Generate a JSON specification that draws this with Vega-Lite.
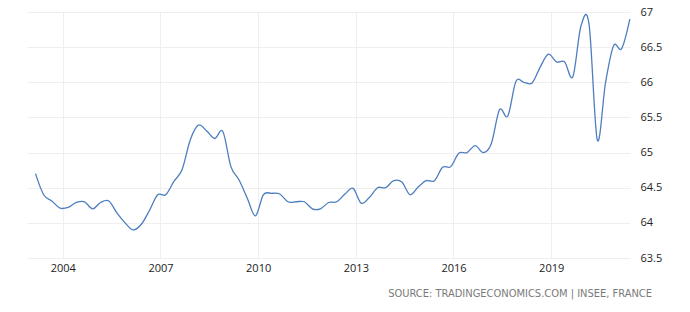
{
  "$schema": "https://vega.github.io/schema/vega-lite/v6.json",
  "width": 603,
  "height": 246,
  "autosize": "none",
  "padding": {"left": 27, "top": 12, "right": 60, "bottom": 54},
  "background": "white",
  "config": {"view": {"stroke": null}, "font": "Open Sans"},
  "title": {
    "text": "SOURCE: TRADINGECONOMICS.COM | INSEE, FRANCE",
    "orient": "bottom",
    "anchor": "end",
    "frame": "group",
    "font": "DejaVu Sans Condensed",
    "fontSize": 11,
    "fontWeight": "normal",
    "color": "#7a7a7a",
    "dx": 22,
    "offset": 15
  },
  "data": {
    "values": [
      {"date": "2003-03-01", "value": 64.70},
      {"date": "2003-06-01", "value": 64.40},
      {"date": "2003-09-01", "value": 64.31},
      {"date": "2003-12-01", "value": 64.21},
      {"date": "2004-03-01", "value": 64.22},
      {"date": "2004-06-01", "value": 64.29},
      {"date": "2004-09-01", "value": 64.30},
      {"date": "2004-12-01", "value": 64.20},
      {"date": "2005-03-01", "value": 64.29},
      {"date": "2005-06-01", "value": 64.31},
      {"date": "2005-09-01", "value": 64.14},
      {"date": "2005-12-01", "value": 64.00},
      {"date": "2006-03-01", "value": 63.90},
      {"date": "2006-06-01", "value": 63.98},
      {"date": "2006-09-01", "value": 64.18},
      {"date": "2006-12-01", "value": 64.40},
      {"date": "2007-03-01", "value": 64.40},
      {"date": "2007-06-01", "value": 64.59},
      {"date": "2007-09-01", "value": 64.76},
      {"date": "2007-12-01", "value": 65.18},
      {"date": "2008-03-01", "value": 65.39},
      {"date": "2008-06-01", "value": 65.31},
      {"date": "2008-09-01", "value": 65.20},
      {"date": "2008-12-01", "value": 65.30},
      {"date": "2009-03-01", "value": 64.80},
      {"date": "2009-06-01", "value": 64.61},
      {"date": "2009-09-01", "value": 64.35},
      {"date": "2009-12-01", "value": 64.10},
      {"date": "2010-03-01", "value": 64.40},
      {"date": "2010-06-01", "value": 64.42},
      {"date": "2010-09-01", "value": 64.41},
      {"date": "2010-12-01", "value": 64.30},
      {"date": "2011-03-01", "value": 64.30},
      {"date": "2011-06-01", "value": 64.30},
      {"date": "2011-09-01", "value": 64.20},
      {"date": "2011-12-01", "value": 64.20},
      {"date": "2012-03-01", "value": 64.29},
      {"date": "2012-06-01", "value": 64.30},
      {"date": "2012-09-01", "value": 64.41},
      {"date": "2012-12-01", "value": 64.49},
      {"date": "2013-03-01", "value": 64.28},
      {"date": "2013-06-01", "value": 64.36},
      {"date": "2013-09-01", "value": 64.50},
      {"date": "2013-12-01", "value": 64.50},
      {"date": "2014-03-01", "value": 64.60},
      {"date": "2014-06-01", "value": 64.58},
      {"date": "2014-09-01", "value": 64.40},
      {"date": "2014-12-01", "value": 64.51},
      {"date": "2015-03-01", "value": 64.60},
      {"date": "2015-06-01", "value": 64.60},
      {"date": "2015-09-01", "value": 64.79},
      {"date": "2015-12-01", "value": 64.80},
      {"date": "2016-03-01", "value": 64.99},
      {"date": "2016-06-01", "value": 65.00},
      {"date": "2016-09-01", "value": 65.10},
      {"date": "2016-12-01", "value": 65.00},
      {"date": "2017-03-01", "value": 65.13},
      {"date": "2017-06-01", "value": 65.61},
      {"date": "2017-09-01", "value": 65.52},
      {"date": "2017-12-01", "value": 66.01},
      {"date": "2018-03-01", "value": 66.00},
      {"date": "2018-06-01", "value": 65.99},
      {"date": "2018-09-01", "value": 66.22},
      {"date": "2018-12-01", "value": 66.40},
      {"date": "2019-03-01", "value": 66.29},
      {"date": "2019-06-01", "value": 66.29},
      {"date": "2019-09-01", "value": 66.08},
      {"date": "2019-12-01", "value": 66.80},
      {"date": "2020-03-01", "value": 66.82},
      {"date": "2020-06-01", "value": 65.18},
      {"date": "2020-09-01", "value": 65.99},
      {"date": "2020-12-01", "value": 66.52},
      {"date": "2021-03-01", "value": 66.48},
      {"date": "2021-06-01", "value": 66.90}
    ]
  },
  "mark": {"type": "line", "color": "#4d7ebf", "strokeWidth": 1.3, "interpolate": "cardinal", "clip": false},
  "encoding": {
    "x": {
      "field": "date",
      "type": "temporal",
      "scale": {"domain": ["2002-11-26", "2021-06-03"]},
      "axis": {
        "title": null,
        "values": ["2004-01-01", "2007-01-01", "2010-01-01", "2013-01-01", "2016-01-01", "2019-01-01"],
        "format": "%Y",
        "domain": false,
        "ticks": false,
        "grid": true,
        "gridColor": "#efefef",
        "gridWidth": 1,
        "labelFont": "Open Sans",
        "labelFontSize": 11,
        "labelColor": "#222222",
        "labelPadding": 4
      }
    },
    "y": {
      "field": "value",
      "type": "quantitative",
      "scale": {"domain": [63.5, 67], "nice": false, "zero": false},
      "axis": {
        "title": null,
        "orient": "right",
        "values": [63.5, 64, 64.5, 65, 65.5, 66, 66.5, 67],
        "format": "~g",
        "domain": false,
        "ticks": false,
        "grid": true,
        "gridColor": "#efefef",
        "gridWidth": 1,
        "labelFont": "Open Sans",
        "labelFontSize": 11,
        "labelColor": "#222222",
        "labelPadding": 10
      }
    }
  }
}
